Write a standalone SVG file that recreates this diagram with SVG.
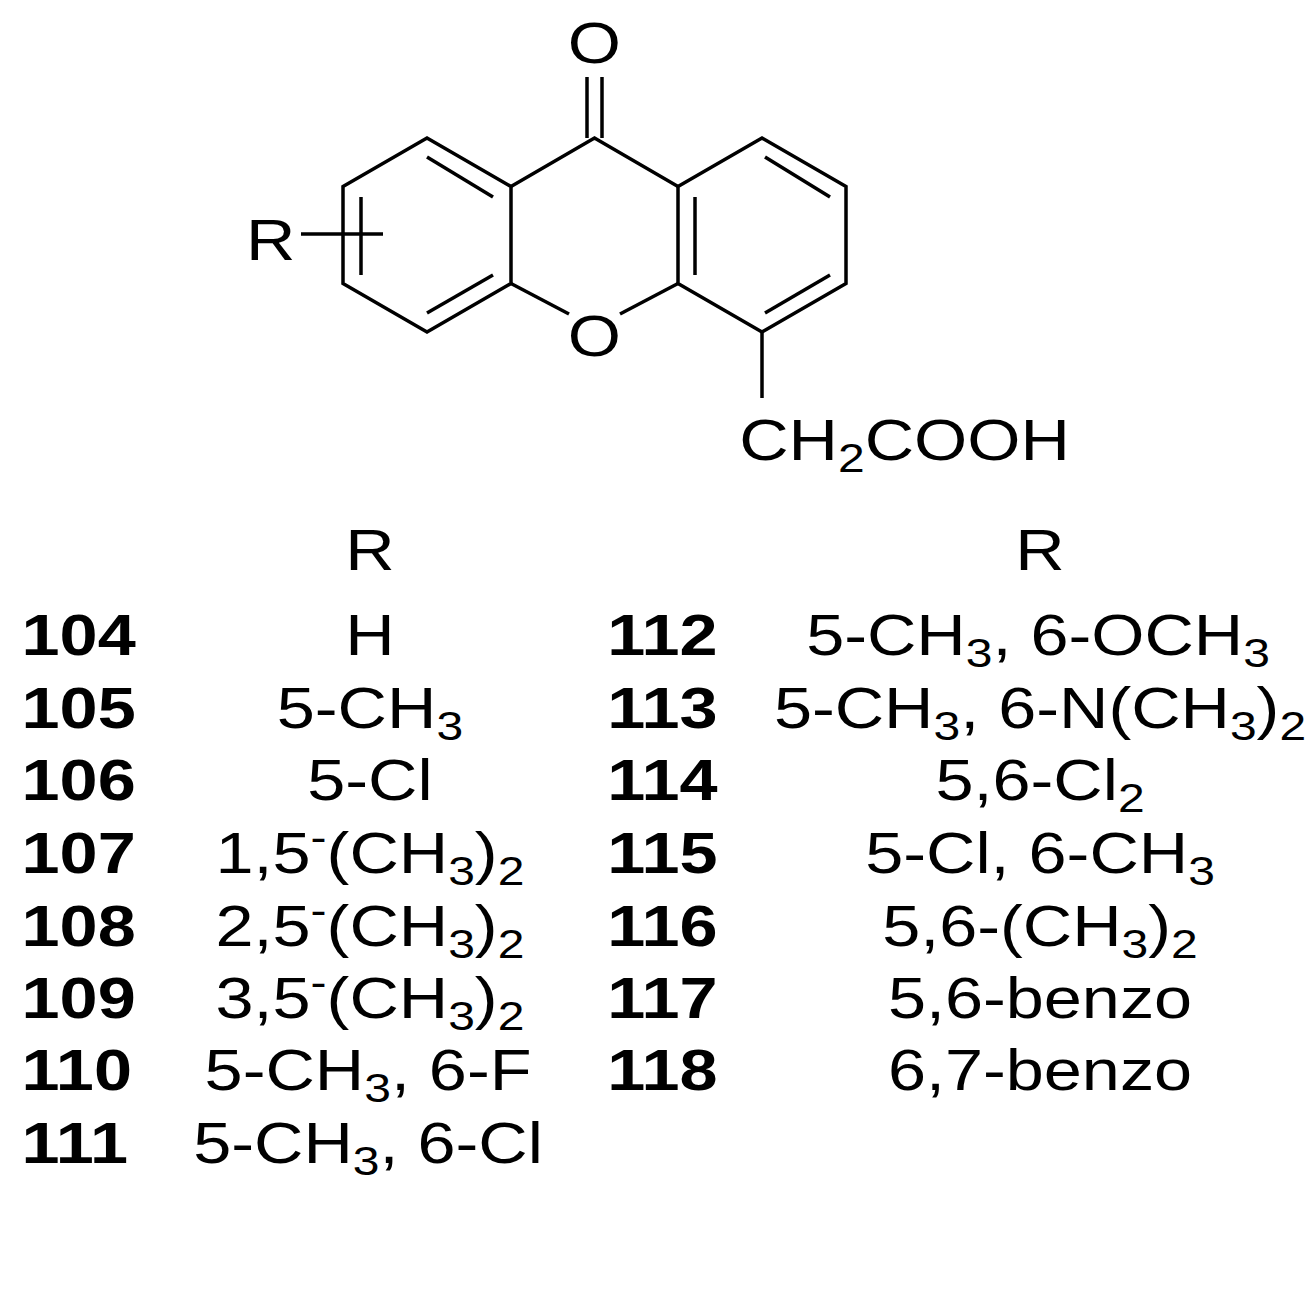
<svg xmlns="http://www.w3.org/2000/svg" width="1316" height="1298" viewBox="0 0 1316 1298">
<style>
text{font-family:"Liberation Sans",Arial,sans-serif;font-size:57px;fill:#000}
.b{font-weight:bold;font-size:57px}
.m{text-anchor:middle}
.s{font-size:40px}
line,polyline,polygon{stroke:#000;stroke-width:3.5;fill:none;stroke-linecap:butt}
</style>
<rect width="1316" height="1298" fill="#fff"/>
<g id="connectors">
<polygon points="427,138 511,186.5 511,283.5 427,332 343,283.5 343,186.5"/>
<polyline points="511,186.5 594.5,138 678,186.5"/>
<polygon points="762,138 846,186.5 846,283.5 762,332 678,283.5 678,186.5"/>
<line x1="511" y1="283.5" x2="569" y2="314"/>
<line x1="678" y1="283.5" x2="620" y2="314"/>
<line x1="587" y1="77" x2="587" y2="138"/>
<line x1="602" y1="77" x2="602" y2="138"/>
<line x1="427" y1="157" x2="493" y2="197"/>
<line x1="361" y1="197" x2="361" y2="275"/>
<line x1="427" y1="313" x2="493" y2="275"/>
<line x1="695" y1="197" x2="695" y2="275"/>
<line x1="765" y1="157" x2="830" y2="197"/>
<line x1="765" y1="313" x2="830" y2="275"/>
<line x1="301" y1="234" x2="383" y2="234"/>
<line x1="762" y1="332" x2="762" y2="398"/>
</g>
<g id="atoms" transform="scale(1.2,1)">
<text class="m" x="495.4" y="63">O</text>
<text class="m" x="495.4" y="356">O</text>
<text x="205" y="260">R</text>
<text x="616" y="460">CH<tspan class="s" dy="12">2</tspan><tspan dy="-12">COOH</tspan></text>
</g>
<g id="table" transform="scale(1.2,1)">
<text class="m" x="308.3" y="570">R</text>
<text class="m" x="866.7" y="570">R</text>
<text class="b" x="18" y="655">104</text>
<text class="b" x="18" y="728">105</text>
<text class="b" x="18" y="800">106</text>
<text class="b" x="18" y="873">107</text>
<text class="b" x="18" y="946">108</text>
<text class="b" x="18" y="1018">109</text>
<text class="b" x="18" y="1090">110</text>
<text class="b" x="18" y="1163">111</text>
<text class="b" x="506" y="655">112</text>
<text class="b" x="506" y="728">113</text>
<text class="b" x="506" y="800">114</text>
<text class="b" x="506" y="873">115</text>
<text class="b" x="506" y="946">116</text>
<text class="b" x="506" y="1018">117</text>
<text class="b" x="506" y="1090">118</text>
<text class="m" x="308.3" y="655">H</text>
<text class="m" x="308.3" y="728">5-CH<tspan class="s" dy="12">3</tspan></text>
<text class="m" x="308.3" y="800">5-Cl</text>
<text class="m" x="308.3" y="873">1,5<tspan class="s" dy="-22">-</tspan><tspan dy="22">(CH</tspan><tspan class="s" dy="12">3</tspan><tspan dy="-12">)</tspan><tspan class="s" dy="12">2</tspan></text>
<text class="m" x="308.3" y="946">2,5<tspan class="s" dy="-22">-</tspan><tspan dy="22">(CH</tspan><tspan class="s" dy="12">3</tspan><tspan dy="-12">)</tspan><tspan class="s" dy="12">2</tspan></text>
<text class="m" x="308.3" y="1018">3,5<tspan class="s" dy="-22">-</tspan><tspan dy="22">(CH</tspan><tspan class="s" dy="12">3</tspan><tspan dy="-12">)</tspan><tspan class="s" dy="12">2</tspan></text>
<text class="m" x="306.7" y="1090">5-CH<tspan class="s" dy="12">3</tspan><tspan dy="-12">, 6-F</tspan></text>
<text class="m" x="306.7" y="1163">5-CH<tspan class="s" dy="12">3</tspan><tspan dy="-12">, 6-Cl</tspan></text>
<text class="m" x="865" y="655">5-CH<tspan class="s" dy="12">3</tspan><tspan dy="-12">, 6-OCH</tspan><tspan class="s" dy="12">3</tspan></text>
<text class="m" x="866.7" y="728">5-CH<tspan class="s" dy="12">3</tspan><tspan dy="-12">, 6-N(CH</tspan><tspan class="s" dy="12">3</tspan><tspan dy="-12">)</tspan><tspan class="s" dy="12">2</tspan></text>
<text class="m" x="866.7" y="800">5,6-Cl<tspan class="s" dy="12">2</tspan></text>
<text class="m" x="866.7" y="873">5-Cl, 6-CH<tspan class="s" dy="12">3</tspan></text>
<text class="m" x="866.7" y="946">5,6-(CH<tspan class="s" dy="12">3</tspan><tspan dy="-12">)</tspan><tspan class="s" dy="12">2</tspan></text>
<text class="m" x="866.7" y="1018">5,6-benzo</text>
<text class="m" x="866.7" y="1090">6,7-benzo</text>
</g>
</svg>
